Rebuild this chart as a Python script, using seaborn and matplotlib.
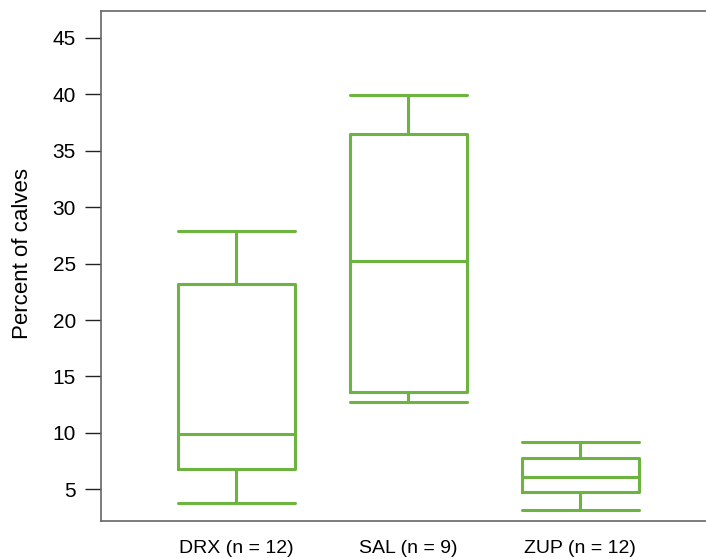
import pandas as pd
import numpy as np
import matplotlib.pyplot as plt
import seaborn as sns

# five-number summaries: min, q1, median, q3, max
groups = ["DRX (n = 12)", "SAL (n = 9)", "ZUP (n = 12)"]
drx = [3.8, 6.8, 9.9, 23.2, 27.9]
sal = [12.7, 13.6, 25.2, 36.5, 39.9]
zup = [3.2, 4.8, 6.1, 7.8, 9.2]
yticks = [5, 10, 15, 20, 25, 30, 35, 40, 45]

# with 5 points the linear quartiles land exactly on the 2nd/3rd/4th values
df = pd.DataFrame({
    "group": np.repeat(groups, 5),
    "value": drx + sal + zup,
})

sns.set_style("white")
plt.rcParams['font.family'] = ['Liberation Sans', 'DejaVu Sans']
plt.rcParams['text.color'] = 'black'
plt.rcParams['axes.labelcolor'] = 'black'
plt.rcParams['xtick.color'] = 'black'
plt.rcParams['ytick.color'] = 'black'

green = "#6db33f"
fig = plt.figure(figsize=(7.06, 5.59), dpi=100)
ax = fig.add_axes([0.143, 0.068, 0.857, 0.913])

sns.boxplot(data=df, x="group", y="value", order=groups, whis=(0, 100),
            width=0.68, fill=False, color=green, linecolor=green,
            linewidth=2.2, capwidths=0.68, showfliers=False, ax=ax)

ax.set_ylim(2.2, 47.4)
ax.set_xlim(-0.785, 2.73)
ax.set_yticks(yticks)
ax.set_yticklabels([str(t) for t in yticks], fontsize=15)
ax.tick_params(axis="y", length=11.5, width=1, color="#222222", pad=6.5, left=True)
ax.tick_params(axis="x", length=0, pad=14, labelsize=14)
ax.set_xlabel("")
ax.set_ylabel("Percent of calves", fontsize=16)
ax.yaxis.set_label_coords(-0.113, 0.525)

for s in ["left", "bottom", "top"]:
    ax.spines[s].set_color("#666666")
    ax.spines[s].set_linewidth(1.2)
ax.spines["right"].set_visible(False)

fig.savefig("out.png", dpi=100)
